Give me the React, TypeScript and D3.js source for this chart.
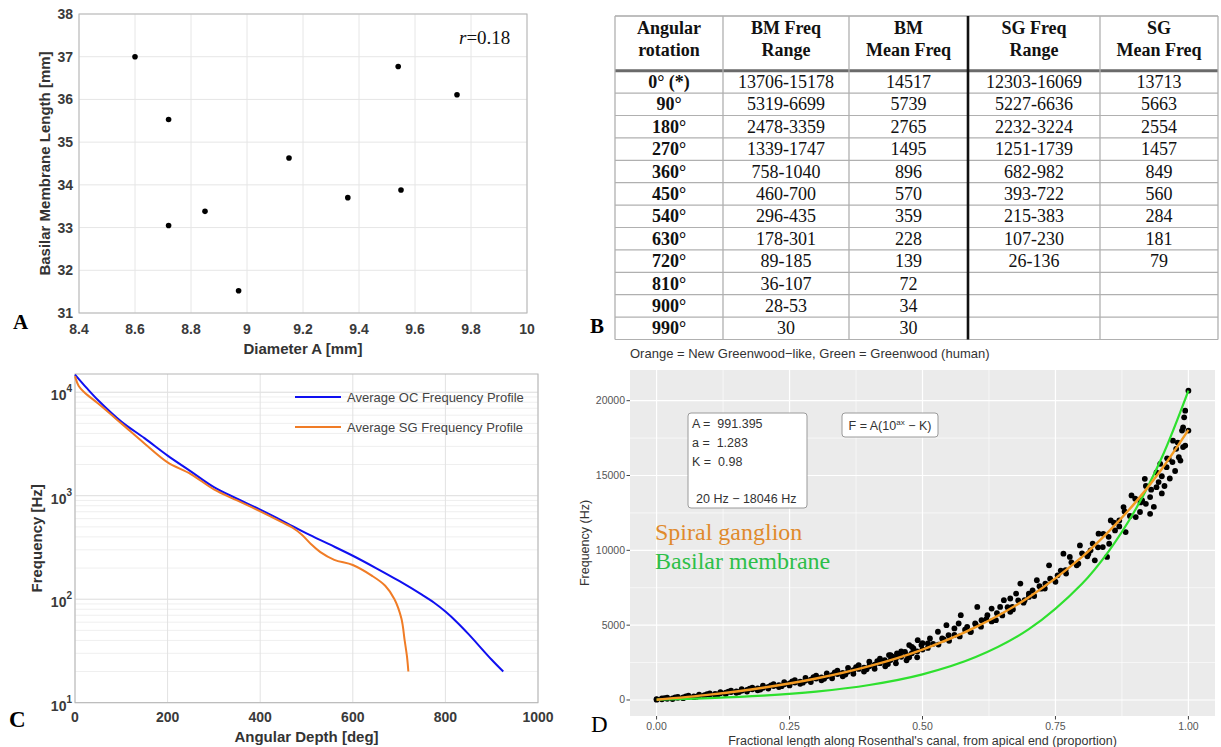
import React from 'react';
import * as d3 from 'd3';

const SANS = "'Liberation Sans', Arial, Helvetica, sans-serif";
const SERIF = "'Liberation Serif', 'Times New Roman', serif";

// ---------- Panel A ----------
const diameterA = [8.6, 8.72, 8.72, 8.85, 8.97, 9.15, 9.36, 9.54, 9.55, 9.75];
const bmLength = [37.0, 35.53, 33.05, 33.38, 31.52, 34.63, 33.7, 36.77, 33.88, 36.11];
const aXTicks = [8.4, 8.6, 8.8, 9, 9.2, 9.4, 9.6, 9.8, 10];
const aYTicks = [31, 32, 33, 34, 35, 36, 37, 38];

// ---------- Panel B ----------
const tableHeaders = [
  ['Angular', 'rotation'],
  ['BM Freq', 'Range'],
  ['BM', 'Mean Freq'],
  ['SG Freq', 'Range'],
  ['SG', 'Mean Freq'],
];
const angularRotation = ['0° (*)', '90°', '180°', '270°', '360°', '450°', '540°', '630°', '720°', '810°', '900°', '990°'];
const bmRange = ['13706-15178', '5319-6699', '2478-3359', '1339-1747', '758-1040', '460-700', '296-435', '178-301', '89-185', '36-107', '28-53', '30'];
const bmMean = ['14517', '5739', '2765', '1495', '896', '570', '359', '228', '139', '72', '34', '30'];
const sgRange = ['12303-16069', '5227-6636', '2232-3224', '1251-1739', '682-982', '393-722', '215-383', '107-230', '26-136', '', '', ''];
const sgMean = ['13713', '5663', '2554', '1457', '849', '560', '284', '181', '79', '', '', ''];

// ---------- Panel C ----------
const ocDepth = [0, 25, 50, 100, 150, 200, 250, 300, 350, 400, 450, 500, 550, 600, 650, 700, 750, 775, 800, 825, 850, 900, 925];
const ocFreq = [14800, 11000, 8350, 5200, 3600, 2440, 1720, 1210, 935, 733, 566, 432, 338, 263, 200, 150, 110, 93, 76, 60, 46, 26, 20];
const sgDepth = [0, 8, 20, 50, 100, 150, 200, 250, 300, 350, 400, 450, 470, 490, 510, 530, 560, 600, 640, 670, 690, 705, 712, 717, 720];
const sgFreq = [14300, 11500, 10000, 7770, 5000, 3200, 2100, 1620, 1150, 900, 707, 546, 490, 420, 340, 285, 240, 214, 170, 135, 100, 65, 40, 28, 20];
const cXTicks = [0, 200, 400, 600, 800, 1000];
const cYDecades = [1, 2, 3, 4];

// ---------- Panel D ----------
const fracX = [0, 0.1, 0.2, 0.3, 0.4, 0.5, 0.6, 0.7, 0.8, 0.85, 0.9, 0.95, 1.0];
const sgFit = [20, 361, 819, 1434, 2262, 3372, 4866, 6872, 9564, 11250, 13187, 15440, 18046];
const greenwood = [20, 123, 289, 560, 999, 1710, 2865, 4735, 7770, 9935, 12693, 16206, 20677];
const dXTicks = [0, 0.25, 0.5, 0.75, 1.0];
const dXMinor = [0.125, 0.375, 0.625, 0.875];
const dYTicks = [0, 5000, 10000, 15000, 20000];
const dYMinor = [2500, 7500, 12500, 17500];
const scatterPoints: [number, number][] = [
  [0.0, 20], [0.0, 60], [0.01, 50], [0.01, 110], [0.02, 80], [0.02, 150], [0.03, 110], [0.03, 60],
  [0.04, 144], [0.04, 210], [0.05, 178], [0.05, 120], [0.06, 212], [0.06, 290], [0.07, 248], [0.07, 190],
  [0.08, 284], [0.08, 360], [0.09, 322], [0.09, 260], [0.1, 361], [0.1, 440], [0.11, 400], [0.11, 330],
  [0.12, 442], [0.12, 520], [0.13, 485], [0.13, 400], [0.14, 528], [0.14, 620], [0.15, 574], [0.15, 480],
  [0.16, 620], [0.16, 720], [0.17, 668], [0.17, 560], [0.18, 716], [0.18, 830], [0.19, 767], [0.19, 650],
  [0.2, 819], [0.2, 950], [0.21, 873], [0.21, 760], [0.22, 928], [0.22, 1060], [0.23, 986], [0.23, 860],
  [0.24, 1044], [0.24, 1200], [0.25, 1105], [0.25, 970], [0.26, 1166], [0.26, 1330], [0.27, 1230], [0.27, 1080],
  [0.28, 1296], [0.28, 1480], [0.29, 1365], [0.29, 1200], [0.3, 1434], [0.3, 1620], [0.31, 1507], [0.31, 1320],
  [0.32, 1581], [0.32, 1780], [0.33, 1658], [0.33, 1450], [0.34, 1736], [0.34, 1960], [0.35, 1818], [0.35, 1580],
  [0.36, 1901], [0.36, 2150], [0.37, 1988], [0.37, 1750], [0.38, 2076], [0.38, 2330], [0.39, 2169], [0.39, 1900],
  [0.4, 2262], [0.4, 2560], [0.41, 2360], [0.41, 2080], [0.42, 2458], [0.42, 2760], [0.43, 2562], [0.43, 2250],
  [0.44, 2667], [0.44, 3000], [0.45, 2777], [0.45, 2450], [0.46, 2888], [0.46, 3250], [0.47, 3005], [0.47, 2650],
  [0.48, 3123], [0.48, 3550], [0.49, 3247], [0.49, 2850], [0.5, 3372], [0.5, 3800],
  [0.015, 130], [0.035, 170], [0.055, 240], [0.075, 220], [0.095, 390], [0.115, 370], [0.135, 560], [0.155, 530],
  [0.175, 760], [0.195, 700], [0.215, 980], [0.235, 920], [0.255, 1250], [0.275, 1160], [0.295, 1530], [0.315, 1420],
  [0.335, 1850], [0.355, 1700], [0.375, 2200], [0.395, 2050], [0.415, 2600], [0.435, 2400], [0.455, 3050], [0.475, 2850],
  [0.51, 3480], [0.52, 3750], [0.53, 3700], [0.54, 4050], [0.55, 3950], [0.56, 4350], [0.57, 4250], [0.58, 4700],
  [0.59, 4550], [0.6, 5050], [0.61, 4900], [0.62, 5400], [0.63, 5250], [0.64, 5800], [0.65, 5650], [0.66, 6200],
  [0.67, 6050], [0.68, 6650], [0.69, 6500], [0.7, 7100], [0.71, 6950], [0.72, 7600], [0.73, 7450], [0.74, 8100],
  [0.75, 7900], [0.76, 8650], [0.77, 8450], [0.78, 9200], [0.79, 9000], [0.8, 9800], [0.81, 9600], [0.82, 10450],
  [0.83, 10200], [0.84, 11100], [0.85, 10900], [0.86, 11850], [0.87, 11600], [0.88, 12600], [0.89, 12300], [0.9, 13450],
  [0.91, 13200], [0.92, 14300], [0.93, 14050], [0.94, 15200], [0.95, 14950], [0.96, 16150], [0.97, 15900], [0.98, 17200],
  [0.99, 16900], [1.0, 18000],
  [1.0, 20670], [0.994, 19330], [0.992, 18890], [0.99, 18220], [0.988, 18000], [0.994, 17000], [0.982, 16220], [0.971, 17330],
  [0.977, 16780], [0.959, 15560], [0.963, 16110], [0.947, 15780], [0.94, 14220], [0.944, 14560], [0.928, 13560], [0.918, 14780],
  [0.928, 12440], [0.92, 13110], [0.913, 13330], [0.909, 12560], [0.893, 13670], [0.901, 12220], [0.878, 12890], [0.882, 11220],
  [0.87, 12000], [0.854, 12000], [0.862, 11330], [0.851, 10440], [0.831, 11110], [0.839, 10220], [0.847, 9560], [0.816, 10000],
  [0.796, 10330], [0.812, 9780], [0.824, 9330], [0.793, 9110], [0.777, 9560], [0.765, 9780], [0.769, 8670], [0.754, 8330],
  [0.738, 9000], [0.731, 7780], [0.715, 8000], [0.723, 7440], [0.707, 7330], [0.7, 6890], [0.684, 7780], [0.692, 6670],
  [0.676, 7110], [0.665, 6780], [0.669, 6220], [0.653, 6670], [0.646, 6220], [0.665, 5890], [0.63, 6110], [0.622, 5670],
  [0.638, 5330], [0.603, 6220], [0.611, 5330], [0.599, 5110], [0.591, 4560], [0.584, 4890], [0.572, 5670], [0.568, 5110],
  [0.56, 4780], [0.545, 5000], [0.549, 4330], [0.529, 4560], [0.537, 4110], [0.514, 4110], [0.51, 3780], [0.498, 3670],
  [0.491, 4000], [0.483, 3440], [0.475, 3670], [0.467, 3220], [0.452, 3110], [0.444, 2890], [0.437, 3000], [0.429, 2670],
  [0.935, 12900], [0.95, 13800], [0.965, 14800], [0.975, 15300], [0.985, 16000], [0.955, 14300],
];

export default function App() {
  const xA = d3.scaleLinear().domain([8.4, 10]).range([79, 527]);
  const yA = d3.scaleLinear().domain([31, 38]).range([313, 14]);

  const xC = d3.scaleLinear().domain([0, 1000]).range([75, 538]);
  const yC = d3.scaleLog().domain([10, 15000]).range([702.7, 374]);
  const lineC = (xs: number[], ys: number[]) =>
    d3.line<number>().x((_, i) => xC(xs[i])).y((_, i) => yC(ys[i])).curve(d3.curveCatmullRom.alpha(0.5))(xs) || '';
  const minorC: number[] = [];
  cYDecades.forEach((d) => {
    for (let k = 2; k <= 9; k++) {
      const v = k * Math.pow(10, d);
      if (v < 15000) minorC.push(v);
    }
  });

  const xD = d3.scaleLinear().domain([-0.05, 1.05]).range([630, 1215]);
  const yD = d3.scaleLinear().domain([-1070, 22050]).range([716, 370]);
  const lineD = (ys: number[]) =>
    d3.line<number>().x((_, i) => xD(fracX[i])).y((_, i) => yD(ys[i])).curve(d3.curveCatmullRom.alpha(0.5))(fracX) || '';

  const colEdges = [615, 723, 849, 968, 1100, 1218];
  const tTop = 16;
  const hBottom = 70.7;
  const rowH = 22.4;
  const tBottom = hBottom + rowH * angularRotation.length;
  const cols = [angularRotation, bmRange, bmMean, sgRange, sgMean];

  return (
    <svg width={1221} height={747} style={{ position: 'absolute', left: 0, top: 0, background: '#fff' }}>
      <rect x={0} y={0} width={1221} height={747} fill="#fff" />

      {/* ================= Panel A ================= */}
      <g>
        {aXTicks.map((t) => (
          <line key={'ax' + t} x1={xA(t)} x2={xA(t)} y1={yA(31)} y2={yA(38)} stroke="#e6e6e6" />
        ))}
        {aYTicks.map((t) => (
          <line key={'ay' + t} x1={xA(8.4)} x2={xA(10)} y1={yA(t)} y2={yA(t)} stroke="#e6e6e6" />
        ))}
        <rect x={xA(8.4)} y={yA(38)} width={xA(10) - xA(8.4)} height={yA(31) - yA(38)} fill="none" stroke="#b5b5b5" />
        {aXTicks.map((t) => (
          <text key={'axl' + t} x={xA(t)} y={334} textAnchor="middle" fontFamily={SANS} fontSize={14} fontWeight="bold" fill="#3a3a3a">
            {String(t)}
          </text>
        ))}
        {aYTicks.map((t) => (
          <text key={'ayl' + t} x={73} y={yA(t) + 5} textAnchor="end" fontFamily={SANS} fontSize={14} fontWeight="bold" fill="#3a3a3a">
            {t}
          </text>
        ))}
        {diameterA.map((d, i) => (
          <circle key={'ap' + i} cx={xA(d)} cy={yA(bmLength[i])} r={2.8} fill="#000" />
        ))}
        <text x={459} y={44} fontFamily={SERIF} fontSize={19} fill="#111">
          <tspan fontStyle="italic">r</tspan>=0.18
        </text>
        <text transform={`translate(50,${(yA(31) + yA(38)) / 2}) rotate(-90)`} textAnchor="middle" fontFamily={SANS} fontSize={15} fontWeight="bold" fill="#333">
          Basilar Membrane Length [mm]
        </text>
        <text x={(xA(8.4) + xA(10)) / 2} y={354} textAnchor="middle" fontFamily={SANS} fontSize={15} fontWeight="bold" fill="#333">
          Diameter A [mm]
        </text>
        <text x={13} y={329} fontFamily={SERIF} fontSize={21} fontWeight="bold" fill="#000">A</text>
      </g>

      {/* ================= Panel B (table) ================= */}
      <g>
        <text x={590} y={333} fontFamily={SERIF} fontSize={21} fontWeight="bold" fill="#000">B</text>
        {angularRotation.map((_, i) => (
          <line key={'rl' + i} x1={colEdges[0]} x2={colEdges[5]} y1={hBottom + rowH * (i + 1)} y2={hBottom + rowH * (i + 1)} stroke="#b0b0b0" strokeWidth={1.2} />
        ))}
        <line x1={colEdges[0]} x2={colEdges[5]} y1={tTop} y2={tTop} stroke="#a8a8a8" strokeWidth={1.5} />
        <line x1={colEdges[0]} x2={colEdges[5]} y1={hBottom} y2={hBottom} stroke="#6a6a6a" strokeWidth={3} />
        {colEdges.map((x, i) =>
          i === 3 ? null : (
            <line key={'cl' + i} x1={x} x2={x} y1={tTop} y2={tBottom} stroke="#b0b0b0" strokeWidth={1.3} />
          )
        )}
        <line x1={colEdges[3]} x2={colEdges[3]} y1={tTop} y2={tBottom} stroke="#111" strokeWidth={2.6} />
        {tableHeaders.map((h, c) => {
          const cx = (colEdges[c] + colEdges[c + 1]) / 2;
          return (
            <g key={'th' + c}>
              <text x={cx} y={34} textAnchor="middle" fontFamily={SERIF} fontSize={18} fontWeight="bold" fill="#111">{h[0]}</text>
              <text x={cx} y={56} textAnchor="middle" fontFamily={SERIF} fontSize={18} fontWeight="bold" fill="#111">{h[1]}</text>
            </g>
          );
        })}
        {cols.map((col, c) =>
          col.map((v, r) => (
            <text
              key={'td' + c + '_' + r}
              x={(colEdges[c] + colEdges[c + 1]) / 2}
              y={hBottom + rowH * r + rowH / 2 + 6}
              textAnchor="middle"
              fontFamily={SERIF}
              fontSize={18}
              fontWeight={c === 0 ? 'bold' : 'normal'}
              fill="#111"
            >
              {v}
            </text>
          ))
        )}
      </g>

      {/* ================= Panel C ================= */}
      <g>
        {minorC.map((v) => (
          <line key={'cm' + v} x1={xC(0)} x2={xC(1000)} y1={yC(v)} y2={yC(v)} stroke="#efefef" />
        ))}
        {cYDecades.map((d) => (
          <line key={'cM' + d} x1={xC(0)} x2={xC(1000)} y1={yC(Math.pow(10, d))} y2={yC(Math.pow(10, d))} stroke="#dcdcdc" />
        ))}
        {cXTicks.map((t) => (
          <line key={'cx' + t} x1={xC(t)} x2={xC(t)} y1={yC(10)} y2={yC(15000)} stroke="#e2e2e2" />
        ))}
        <rect x={xC(0)} y={yC(15000)} width={xC(1000) - xC(0)} height={yC(10) - yC(15000)} fill="none" stroke="#b5b5b5" />
        <path d={lineC(ocDepth, ocFreq)} fill="none" stroke="#1010f0" strokeWidth={2} />
        <path d={lineC(sgDepth, sgFreq)} fill="none" stroke="#f07c26" strokeWidth={2} />
        {cXTicks.map((t) => (
          <text key={'cxl' + t} x={xC(t)} y={722} textAnchor="middle" fontFamily={SANS} fontSize={14} fontWeight="bold" fill="#3a3a3a">
            {t}
          </text>
        ))}
        {cYDecades.map((d) => (
          <text key={'cyl' + d} x={72} y={yC(Math.pow(10, d)) + 8} textAnchor="end" fontFamily={SANS} fontSize={14} fontWeight="bold" fill="#3a3a3a">
            10<tspan dy={-8} fontSize={10}>{d}</tspan>
          </text>
        ))}
        <line x1={295} x2={341} y1={397} y2={397} stroke="#1010f0" strokeWidth={2} />
        <text x={347} y={401.5} fontFamily={SANS} fontSize={13} fill="#444">Average OC Frequency Profile</text>
        <line x1={295} x2={341} y1={427} y2={427} stroke="#f07c26" strokeWidth={2} />
        <text x={347} y={431.5} fontFamily={SANS} fontSize={13} fill="#444">Average SG Frequency Profile</text>
        <text transform={`translate(42,${(yC(10) + yC(15000)) / 2}) rotate(-90)`} textAnchor="middle" fontFamily={SANS} fontSize={15} fontWeight="bold" fill="#333">
          Frequency [Hz]
        </text>
        <text x={(xC(0) + xC(1000)) / 2} y={742} textAnchor="middle" fontFamily={SANS} fontSize={15} fontWeight="bold" fill="#333">
          Angular Depth [deg]
        </text>
        <text x={9} y={727} fontFamily={SERIF} fontSize={23} fontWeight="bold" fill="#000">C</text>
      </g>

      {/* ================= Panel D ================= */}
      <g>
        <text x={630} y={358} fontFamily={SANS} fontSize={13} fill="#333">
          Orange = New Greenwood−like, Green = Greenwood (human)
        </text>
        <rect x={xD(-0.05)} y={yD(22050)} width={xD(1.05) - xD(-0.05)} height={yD(-1070) - yD(22050)} fill="#ebebeb" />
        {dXMinor.map((t) => (
          <line key={'dxm' + t} x1={xD(t)} x2={xD(t)} y1={yD(-1070)} y2={yD(22050)} stroke="#fff" strokeWidth={0.6} />
        ))}
        {dYMinor.map((t) => (
          <line key={'dym' + t} x1={xD(-0.05)} x2={xD(1.05)} y1={yD(t)} y2={yD(t)} stroke="#fff" strokeWidth={0.6} />
        ))}
        {dXTicks.map((t) => (
          <line key={'dxM' + t} x1={xD(t)} x2={xD(t)} y1={yD(-1070)} y2={yD(22050)} stroke="#fff" strokeWidth={1.2} />
        ))}
        {dYTicks.map((t) => (
          <line key={'dyM' + t} x1={xD(-0.05)} x2={xD(1.05)} y1={yD(t)} y2={yD(t)} stroke="#fff" strokeWidth={1.2} />
        ))}
        {scatterPoints.map((p, i) => (
          <circle key={'dp' + i} cx={xD(p[0])} cy={yD(p[1])} r={2.9} fill="#000" />
        ))}
        <path d={lineD(greenwood)} fill="none" stroke="#2ee02e" strokeWidth={2.2} />
        <path d={lineD(sgFit)} fill="none" stroke="#f39a22" strokeWidth={2.4} />
        {dYTicks.map((t) => (
          <g key={'dyt' + t}>
            <line x1={626.5} x2={630} y1={yD(t)} y2={yD(t)} stroke="#444" />
            <text x={625} y={yD(t) + 3.5} textAnchor="end" fontFamily={SANS} fontSize={10.5} fill="#555">{t}</text>
          </g>
        ))}
        {dXTicks.map((t) => (
          <g key={'dxt' + t}>
            <line x1={xD(t)} x2={xD(t)} y1={716} y2={719.5} stroke="#444" />
            <text x={xD(t)} y={730} textAnchor="middle" fontFamily={SANS} fontSize={10.5} fill="#555">{t.toFixed(2)}</text>
          </g>
        ))}
        <text x={(xD(-0.05) + xD(1.05)) / 2} y={744.5} textAnchor="middle" fontFamily={SANS} fontSize={12.5} fill="#333">
          Fractional length along Rosenthal's canal, from apical end (proportion)
        </text>
        <text transform={`translate(589,${(yD(-1070) + yD(22050)) / 2}) rotate(-90)`} textAnchor="middle" fontFamily={SANS} fontSize={12.5} fill="#333">
          Frequency (Hz)
        </text>
        <rect x={688} y={413} width={119} height={95} rx={3} fill="#fff" stroke="#9a9a9a" />
        <text x={692} y={427.5} fontFamily={SANS} fontSize={12.5} fill="#333" style={{ whiteSpace: 'pre' }}>A =  991.395</text>
        <text x={692} y={446.5} fontFamily={SANS} fontSize={12.5} fill="#333" style={{ whiteSpace: 'pre' }}>a =  1.283</text>
        <text x={692} y={465.5} fontFamily={SANS} fontSize={12.5} fill="#333" style={{ whiteSpace: 'pre' }}>K =  0.98</text>
        <text x={696} y={502.5} fontFamily={SANS} fontSize={12.5} fill="#333">20 Hz − 18046 Hz</text>
        <rect x={842} y={413} width={96} height={24} rx={3} fill="#fff" stroke="#9a9a9a" />
        <text x={890} y={430} textAnchor="middle" fontFamily={SANS} fontSize={12.5} fill="#333">
          F = A(10<tspan dy={-5} fontSize={8}>ax</tspan><tspan dy={5}> − K)</tspan>
        </text>
        <text x={655} y={540} fontFamily={SERIF} fontSize={24} fill="#e08a2c">Spiral ganglion</text>
        <text x={655} y={569} fontFamily={SERIF} fontSize={24} fill="#2dbf48">Basilar membrane</text>
        <text x={591} y={732} fontFamily={SERIF} fontSize={23} fill="#000">D</text>
      </g>
    </svg>
  );
}
